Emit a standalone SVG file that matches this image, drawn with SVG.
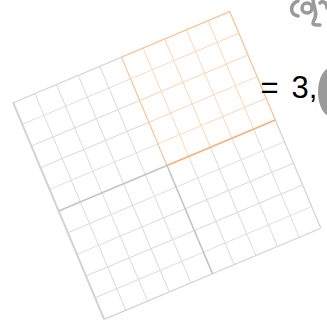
<svg xmlns="http://www.w3.org/2000/svg" width="327" height="325" viewBox="0 0 327 325">
  <style>
    .grid{fill:none;stroke:#dcdcdc;stroke-width:1}
    .gborder{fill:none;stroke:#d2d2d2;stroke-width:1.2}
    .gmid{fill:none;stroke:#c4c4c4;stroke-width:1.6}
    .ogrid{fill:none;stroke:#fcd8b6;stroke-width:1}
    .oborder{fill:none;stroke:#f9c393;stroke-width:1.2}
    .omid{fill:none;stroke:#f6b074;stroke-width:1.6}
    .lbl{font-family:"Liberation Sans",Arial,sans-serif;font-size:31px;fill:#000}
  </style>
  <rect width="327" height="325" fill="#fff"/>
  <g transform="translate(167,165.5) rotate(-22.8)">
    <g id="q-top-left">
      <path class="grid" d="M-94,-117.5V0M-70.5,-117.5V0M-47,-117.5V0M-23.5,-117.5V0M-117.5,-94H0M-117.5,-70.5H0M-117.5,-47H0M-117.5,-23.5H0"/>
      <path class="gborder" d="M-117.5,-117.5H0"/>
    </g>
    <g id="q-bottom-left">
      <path class="grid" d="M-94,0V117.5M-70.5,0V117.5M-47,0V117.5M-23.5,0V117.5M-117.5,23.5H0M-117.5,47H0M-117.5,70.5H0M-117.5,94H0"/>
      <path class="gborder" d="M-117.5,117.5H0"/>
    </g>
    <g id="q-bottom-right">
      <path class="grid" d="M23.5,0V117.5M47,0V117.5M70.5,0V117.5M94,0V117.5M0,23.5H117.5M0,47H117.5M0,70.5H117.5M0,94H117.5"/>
      <path class="gborder" d="M0,117.5H117.5M117.5,0V117.5"/>
    </g>
    <g id="borders">
      <path class="gborder" style="stroke-width:2" d="M-117.5,-117.5V117.5"/>
      <path class="gmid" d="M-117.5,0H0M0,0V117.5"/>
    </g>
    <g id="q-top-right">
      <path class="ogrid" d="M23.5,-117.5V0M47,-117.5V0M70.5,-117.5V0M94,-117.5V0M0,-94H117.5M0,-70.5H117.5M0,-47H117.5M0,-23.5H117.5"/>
      <path class="oborder" d="M0,0V-117.5H117.5V0"/>
      <path class="omid" d="M0,0H117.5"/>
    </g>
  </g>
  <g id="connectors"></g>
  <g id="label">
    <text class="lbl" x="260.5" y="97.5">=</text>
    <text class="lbl" x="291.4" y="97.5">3,</text>
  </g>
  <g id="decor" fill="none" stroke="#9a9a9a" stroke-width="3.5" stroke-linecap="round">
    <path d="M298,1 C290,4 289,14 298,16"/>
    <circle cx="307" cy="8" r="5"/>
    <path d="M313,0 C314,8 318,14 314,20 C312,24 312,25 320,25"/>
    <path d="M320,3 C323,0 327,3 327,8"/>
    <ellipse cx="332" cy="92" rx="14" ry="25" fill="#9a9a9a" stroke="none"/>
  </g>
</svg>
